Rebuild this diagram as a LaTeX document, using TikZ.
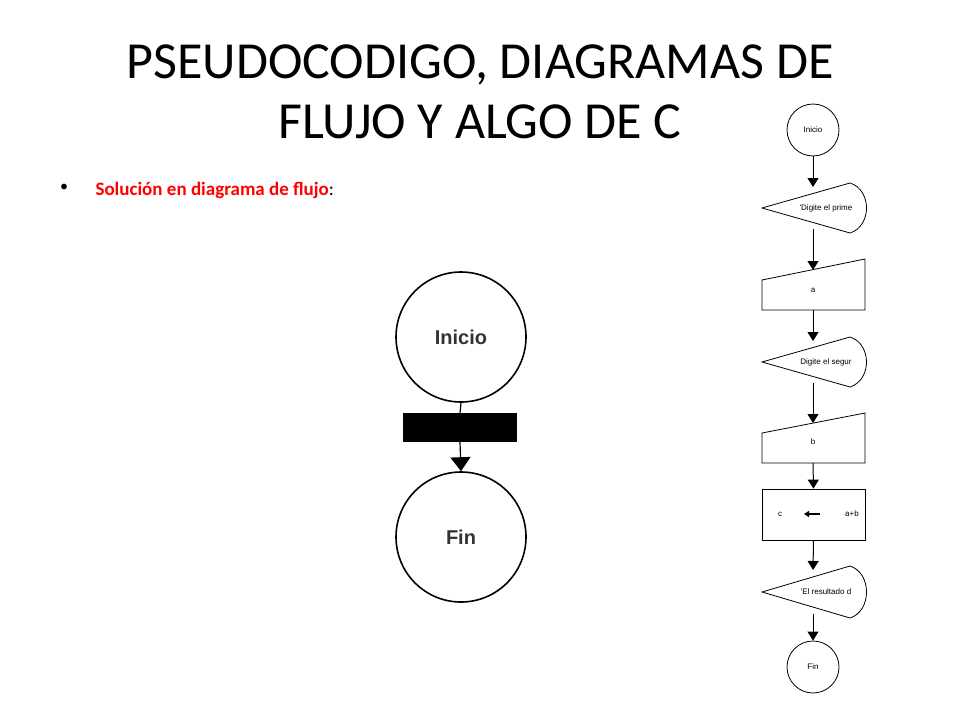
\documentclass[tikz,border=0pt]{standalone}
\usepackage{fontspec}
\setmainfont{Carlito}
\newfontfamily\arialf{Liberation Sans}
\usetikzlibrary{arrows.meta}
\begin{document}
\begin{tikzpicture}[x=1pt,y=-1pt,
  sh/.style={draw=black,line width=0.8pt},
  fl/.style={draw=black,line width=1pt,-{Triangle[length=9pt,width=11pt]}},
  sm/.style={font=\arialf\fontsize{8}{9}\selectfont}]
\useasboundingbox (0,0) rectangle (960,720);
\node (t) at (480,92) [align=center,font=\fontsize{52}{60}\selectfont] {PSEUDOCODIGO, DIAGRAMAS DE\\FLUJO Y ALGO DE C};
\node (bu) at (64,188) [font=\fontsize{16}{20}\selectfont] {•};
\node (sub) at (92,190) [anchor=west,font=\fontsize{19}{22}\selectfont] {\textcolor{red}{\textbf{Solución en diagrama de flujo}}:};
% left
\node (li) at (461,337) [circle,draw,line width=1.6pt,minimum size=130pt,font=\arialf\bfseries\fontsize{20}{24}\selectfont,text=black!80] {Inicio};
\node (lr) at (460,427.5) [fill=black,minimum width=114pt,minimum height=29pt,inner sep=0pt] {};
\node (lf) at (461,537) [circle,draw,line width=1.6pt,minimum size=130pt,font=\arialf\bfseries\fontsize{20}{24}\selectfont,text=black!80] {Fin};
\draw[line width=1.2pt] (li.south) -- (lr.north);
\draw[line width=1.2pt,-{Triangle[length=14pt,width=20pt]}] (lr.south) -- (lf.north);
% right
\node (ri) at (813,130) [circle,sh,minimum size=52pt,sm] {Inicio};
\node (rf) at (813,667) [circle,sh,minimum size=52pt,sm] {Fin};
\draw[sh] (762,208) -- (850,183) .. controls (872,190) and (872,226) .. (850,233) -- cycle;
\node (d1) at (826,208) [sm] {'Digite el prime};
\coordinate (d1t) at (813,187); \coordinate (d1b) at (813,229);
\draw[sh] (762,280) -- (865,259) -- (865,310) -- (762,310) -- cycle;
\node (a) at (813,290) [sm] {a};
\coordinate (at) at (813,270);
\draw[sh] (762,362) -- (850,337) .. controls (872,344) and (872,380) .. (850,387) -- cycle;
\node (d2) at (826,362) [sm] {Digite el segur};
\coordinate (d2t) at (813,341); \coordinate (d2b) at (813,383);
\draw[sh] (762,433) -- (865,413) -- (865,463) -- (762,463) -- cycle;
\node (b) at (813,442) [sm] {b};
\coordinate (bt) at (813,423);
\node (c) at (813.5,514.5) [sh,minimum width=103pt,minimum height=51pt] {};
\node (cc) at (780,514) [sm] {c};
\coordinate (ar1) at (820,514); \coordinate (ar2) at (804,514);
\draw[line width=1.2pt,-{Triangle[length=5pt,width=6pt]}] (ar1) -- (ar2);
\node (ab) at (852,514) [sm] {a+b};
\draw[sh] (762,592) -- (850,566) .. controls (872,573) and (872,611) .. (850,618) -- cycle;
\node (d3) at (826,592) [sm] {'El resultado d};
\coordinate (d3t) at (813,570); \coordinate (d3b) at (813,614);
\draw[fl] (ri.south) -- (d1t);
\draw[fl] (d1b) -- (at);
\draw[fl] (813,310) -- (d2t);
\draw[fl] (d2b) -- (bt);
\draw[fl] (813,463) -- (c.north);
\draw[fl] (c.south) -- (d3t);
\draw[fl] (d3b) -- (rf.north);
\end{tikzpicture}
\end{document}
